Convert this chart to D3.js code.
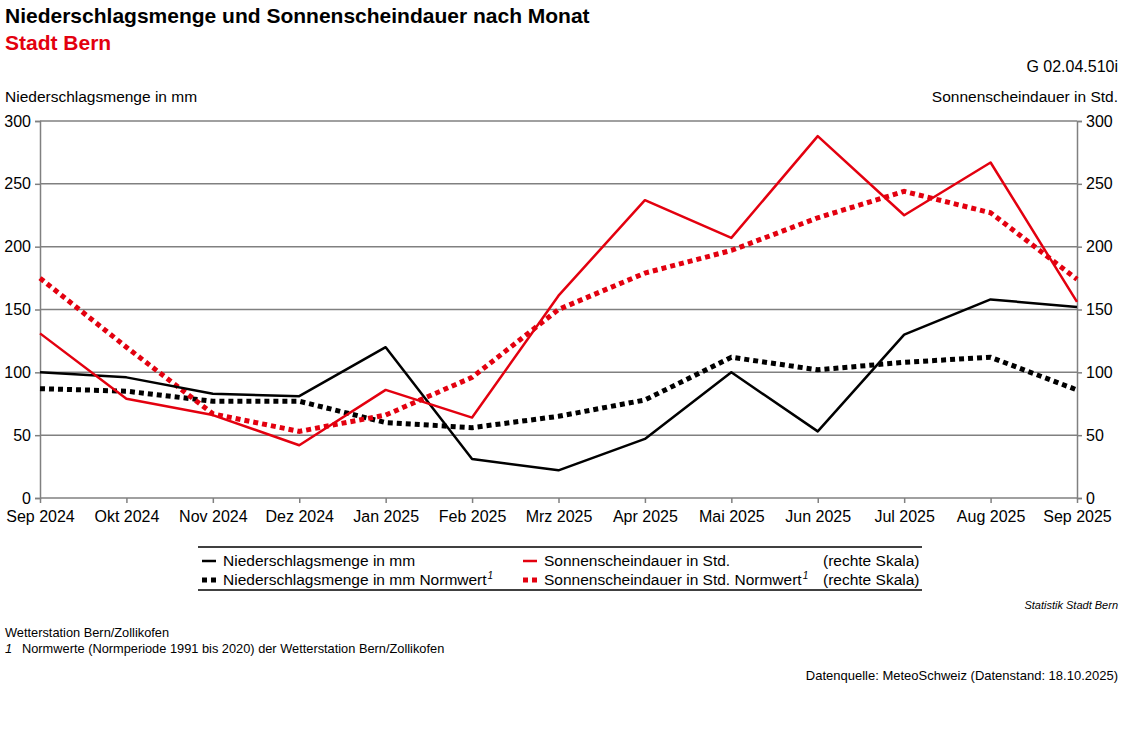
<!DOCTYPE html>
<html>
<head>
<meta charset="utf-8">
<script src="https://cdn.jsdelivr.net/npm/d3@7"></script>
<style>
  body { margin: 0; background: #fff; }
  text { font-family: "Liberation Sans", Arial, sans-serif; }
</style>
</head>
<body>
<svg id="chart" width="1127" height="756"></svg>
<script>
// monthly data, Stadt Bern
var months = ["Sep 2024", "Okt 2024", "Nov 2024", "Dez 2024", "Jan 2025", "Feb 2025", "Mrz 2025",
              "Apr 2025", "Mai 2025", "Jun 2025", "Jul 2025", "Aug 2025", "Sep 2025"];
var niederschlag = [100, 96, 83, 81, 120, 31, 22, 47, 100, 53, 130, 158, 152];
var niederschlagNorm = [87, 85, 77, 77, 60, 56, 65, 78, 112, 102, 108, 112, 86];
var sonne = [131, 79, 66, 42, 86, 64, 161, 237, 207, 288, 225, 267, 156];
var sonneNorm = [175, 120, 67, 53, 66, 96, 150, 179, 197, 223, 244, 227, 174];
var yTicks = [0, 50, 100, 150, 200, 250, 300];

var red = "#e3000f";
var grid = "#808080";

var svg = d3.select("#chart");
var pLeft = 40, pRight = 1077, pTop = 121, pBottom = 498;

var x = d3.scalePoint().domain(months).range([pLeft, pRight]);
var yL = d3.scaleLinear().domain([0, 300]).range([pBottom, pTop]);
var yR = d3.scaleLinear().domain([0, 300]).range([pBottom, pTop]);

// titles
svg.append("text").attr("x", 5).attr("y", 23).attr("font-size", 21).attr("font-weight", "bold")
  .text("Niederschlagsmenge und Sonnenscheindauer nach Monat");
svg.append("text").attr("x", 5).attr("y", 50).attr("font-size", 21).attr("font-weight", "bold")
  .attr("fill", red).text("Stadt Bern");
svg.append("text").attr("x", 1118).attr("y", 72).attr("font-size", 16).attr("text-anchor", "end")
  .text("G 02.04.510i");
svg.append("text").attr("x", 5).attr("y", 102).attr("font-size", 15.5).text("Niederschlagsmenge in mm");
svg.append("text").attr("x", 1118).attr("y", 102).attr("font-size", 15.5).attr("text-anchor", "end")
  .text("Sonnenscheindauer in Std.");

// gridlines
svg.append("g").selectAll("line").data(yTicks.filter(function(d) { return d > 0; })).enter()
  .append("line")
  .attr("x1", pLeft).attr("x2", pRight)
  .attr("y1", function(d) { return yL(d); }).attr("y2", function(d) { return yL(d); })
  .attr("stroke", grid).attr("stroke-width", 1.5);

// axes
var axL = svg.append("g").attr("transform", "translate(" + pLeft + ",0)")
  .call(d3.axisLeft(yL).tickValues(yTicks).tickSize(5).tickPadding(4));
var axR = svg.append("g").attr("transform", "translate(" + pRight + ",0)")
  .call(d3.axisRight(yR).tickValues(yTicks).tickSize(5).tickPadding(4));
var axB = svg.append("g").attr("transform", "translate(0," + pBottom + ")")
  .call(d3.axisBottom(x).tickSize(5).tickPadding(8));
[axL, axR, axB].forEach(function(ax) {
  ax.selectAll("path, line").attr("stroke", grid).attr("stroke-width", 1.5);
  ax.selectAll("text").attr("font-size", 16).attr("fill", "#000")
    .attr("font-family", "'Liberation Sans', Arial, sans-serif");
});
axB.select(".domain").attr("d", "M" + pLeft + ",0H" + pRight);

// lines
var lineL = d3.line().x(function(d, i) { return x(months[i]); }).y(function(d) { return yL(d); });
var lineR = d3.line().x(function(d, i) { return x(months[i]); }).y(function(d) { return yR(d); });

svg.append("path").datum(niederschlagNorm).attr("d", lineL).attr("fill", "none")
  .attr("stroke", "#000").attr("stroke-width", 5).attr("stroke-dasharray", "5,4");
svg.append("path").datum(sonneNorm).attr("d", lineR).attr("fill", "none")
  .attr("stroke", red).attr("stroke-width", 5).attr("stroke-dasharray", "5,4");
svg.append("path").datum(niederschlag).attr("d", lineL).attr("fill", "none")
  .attr("stroke", "#000").attr("stroke-width", 2.5).attr("stroke-linejoin", "round");
svg.append("path").datum(sonne).attr("d", lineR).attr("fill", "none")
  .attr("stroke", red).attr("stroke-width", 2.5).attr("stroke-linejoin", "round");

// legend
var lg = svg.append("g");
lg.append("line").attr("x1", 198).attr("x2", 922).attr("y1", 547).attr("y2", 547).attr("stroke", "#000").attr("stroke-width", 1.5);
lg.append("line").attr("x1", 198).attr("x2", 922).attr("y1", 590).attr("y2", 590).attr("stroke", "#000").attr("stroke-width", 1.5);

var legendItems = [
  { x: 202, y: 561, color: "#000", dotted: false, label: "Niederschlagsmenge in mm", sup: false },
  { x: 523, y: 561, color: red, dotted: false, label: "Sonnenscheindauer in Std.", sup: false },
  { x: 202, y: 580, color: "#000", dotted: true, label: "Niederschlagsmenge in mm Normwert", sup: true },
  { x: 523, y: 580, color: red, dotted: true, label: "Sonnenscheindauer in Std. Normwert", sup: true }
];
legendItems.forEach(function(it) {
  lg.append("line").attr("x1", it.x).attr("x2", it.x + 14).attr("y1", it.y).attr("y2", it.y)
    .attr("stroke", it.color).attr("stroke-width", it.dotted ? 5 : 2.5)
    .attr("stroke-dasharray", it.dotted ? "5,4" : null);
  var t = lg.append("text").attr("x", it.x + 21).attr("y", it.y + 5).attr("font-size", 15.5).text(it.label);
  if (it.sup) {
    t.append("tspan").attr("dy", -6).attr("dx", 1).attr("font-size", 10).attr("font-style", "italic").text("1");
  }
});
lg.append("text").attr("x", 823).attr("y", 566).attr("font-size", 15.5).text("(rechte Skala)");
lg.append("text").attr("x", 823).attr("y", 585).attr("font-size", 15.5).text("(rechte Skala)");

// footer
svg.append("text").attr("x", 1118).attr("y", 609).attr("font-size", 11).attr("font-style", "italic")
  .attr("text-anchor", "end").text("Statistik Stadt Bern");
svg.append("text").attr("x", 5).attr("y", 637).attr("font-size", 12.8).text("Wetterstation Bern/Zollikofen");
svg.append("text").attr("x", 5).attr("y", 653).attr("font-size", 12.8).attr("font-style", "italic").text("1");
svg.append("text").attr("x", 22).attr("y", 653).attr("font-size", 12.8)
  .text("Normwerte (Normperiode 1991 bis 2020) der Wetterstation Bern/Zollikofen");
svg.append("text").attr("x", 1118).attr("y", 680).attr("font-size", 13).attr("text-anchor", "end")
  .text("Datenquelle: MeteoSchweiz (Datenstand: 18.10.2025)");
</script>
</body>
</html>
